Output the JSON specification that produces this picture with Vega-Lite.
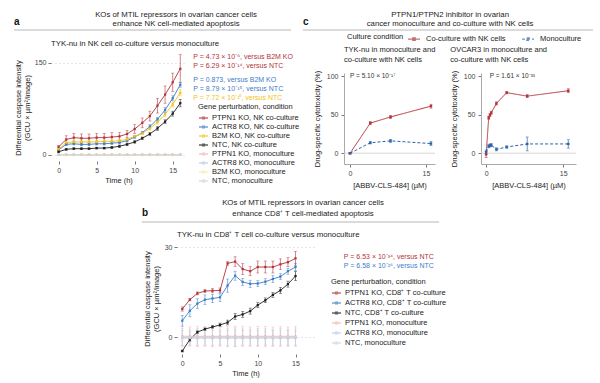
{
"$schema": "https://vega.github.io/schema/vega-lite/v6.json",
"padding": {"left": 13, "top": 11, "right": 5, "bottom": 2},
"background": "white",
"config": {
 "font": "Liberation Sans",
 "view": {"stroke": null},
 "axis": {"labelFontSize": 7, "titleFontSize": 7.5, "labelColor": "#444", "titleColor": "#222", "titleFontWeight": "normal", "tickColor": "#777", "tickSize": 3, "domainColor": "#999", "labelPadding": 2, "grid": false},
 "legend": {"labelFontSize": 7.5, "titleFontSize": 7.5, "titleFontWeight": "normal", "labelColor": "#222", "titleColor": "#222"},
 "title": {"fontSize": 7.8, "fontWeight": "normal", "color": "#222"}
},
"datasets": {
 "a": [
  {"s":"PTPN1 KO, NK co-culture","t":0,"v":13,"lo":11,"hi":15},{"s":"PTPN1 KO, NK co-culture","t":1,"v":25,"lo":19,"hi":31},{"s":"PTPN1 KO, NK co-culture","t":2,"v":28,"lo":21,"hi":35},{"s":"PTPN1 KO, NK co-culture","t":3,"v":27,"lo":20,"hi":34},{"s":"PTPN1 KO, NK co-culture","t":4,"v":27,"lo":20,"hi":34},{"s":"PTPN1 KO, NK co-culture","t":5,"v":28,"lo":21,"hi":35},{"s":"PTPN1 KO, NK co-culture","t":6,"v":28,"lo":21,"hi":35},{"s":"PTPN1 KO, NK co-culture","t":7,"v":29,"lo":22,"hi":36},{"s":"PTPN1 KO, NK co-culture","t":8,"v":30,"lo":24,"hi":36},{"s":"PTPN1 KO, NK co-culture","t":9,"v":34,"lo":28,"hi":40},{"s":"PTPN1 KO, NK co-culture","t":10,"v":42,"lo":35,"hi":49},{"s":"PTPN1 KO, NK co-culture","t":11,"v":52,"lo":44,"hi":60},{"s":"PTPN1 KO, NK co-culture","t":12,"v":63,"lo":55,"hi":71},{"s":"PTPN1 KO, NK co-culture","t":13,"v":80,"lo":68,"hi":92},{"s":"PTPN1 KO, NK co-culture","t":14,"v":98,"lo":84,"hi":112},{"s":"PTPN1 KO, NK co-culture","t":15,"v":118,"lo":103,"hi":133},{"s":"PTPN1 KO, NK co-culture","t":16,"v":140,"lo":118,"hi":163},
  {"s":"ACTR8 KO, NK co-culture","t":0,"v":8,"lo":6.5,"hi":9.5},{"s":"ACTR8 KO, NK co-culture","t":1,"v":17,"lo":15,"hi":19},{"s":"ACTR8 KO, NK co-culture","t":2,"v":18,"lo":16,"hi":20},{"s":"ACTR8 KO, NK co-culture","t":3,"v":17,"lo":15,"hi":19},{"s":"ACTR8 KO, NK co-culture","t":4,"v":17,"lo":15,"hi":19},{"s":"ACTR8 KO, NK co-culture","t":5,"v":18,"lo":16,"hi":20},{"s":"ACTR8 KO, NK co-culture","t":6,"v":18,"lo":16,"hi":20},{"s":"ACTR8 KO, NK co-culture","t":7,"v":19,"lo":17,"hi":21},{"s":"ACTR8 KO, NK co-culture","t":8,"v":20,"lo":18,"hi":22},{"s":"ACTR8 KO, NK co-culture","t":9,"v":23,"lo":21,"hi":25},{"s":"ACTR8 KO, NK co-culture","t":10,"v":29,"lo":27,"hi":31},{"s":"ACTR8 KO, NK co-culture","t":11,"v":36,"lo":34,"hi":38},{"s":"ACTR8 KO, NK co-culture","t":12,"v":46,"lo":43,"hi":49},{"s":"ACTR8 KO, NK co-culture","t":13,"v":58,"lo":55,"hi":61},{"s":"ACTR8 KO, NK co-culture","t":14,"v":73,"lo":69,"hi":77},{"s":"ACTR8 KO, NK co-culture","t":15,"v":92,"lo":88,"hi":96},{"s":"ACTR8 KO, NK co-culture","t":16,"v":114,"lo":110,"hi":118},
  {"s":"B2M KO, NK co-culture","t":0,"v":9,"lo":7.5,"hi":10.5},{"s":"B2M KO, NK co-culture","t":1,"v":20,"lo":18,"hi":22},{"s":"B2M KO, NK co-culture","t":2,"v":21,"lo":19,"hi":23},{"s":"B2M KO, NK co-culture","t":3,"v":21,"lo":19,"hi":23},{"s":"B2M KO, NK co-culture","t":4,"v":21,"lo":19,"hi":23},{"s":"B2M KO, NK co-culture","t":5,"v":21,"lo":19,"hi":23},{"s":"B2M KO, NK co-culture","t":6,"v":22,"lo":20,"hi":24},{"s":"B2M KO, NK co-culture","t":7,"v":22,"lo":20,"hi":24},{"s":"B2M KO, NK co-culture","t":8,"v":23,"lo":21,"hi":25},{"s":"B2M KO, NK co-culture","t":9,"v":25,"lo":23,"hi":27},{"s":"B2M KO, NK co-culture","t":10,"v":30,"lo":28,"hi":32},{"s":"B2M KO, NK co-culture","t":11,"v":35,"lo":33,"hi":37},{"s":"B2M KO, NK co-culture","t":12,"v":43,"lo":40,"hi":46},{"s":"B2M KO, NK co-culture","t":13,"v":53,"lo":50,"hi":56},{"s":"B2M KO, NK co-culture","t":14,"v":66,"lo":62,"hi":70},{"s":"B2M KO, NK co-culture","t":15,"v":82,"lo":78,"hi":86},{"s":"B2M KO, NK co-culture","t":16,"v":101,"lo":96,"hi":106},
  {"s":"NTC, NK co-culture","t":0,"v":5,"lo":4,"hi":6},{"s":"NTC, NK co-culture","t":1,"v":9,"lo":7.5,"hi":10.5},{"s":"NTC, NK co-culture","t":2,"v":10,"lo":8.5,"hi":11.5},{"s":"NTC, NK co-culture","t":3,"v":10,"lo":8.5,"hi":11.5},{"s":"NTC, NK co-culture","t":4,"v":10,"lo":8.5,"hi":11.5},{"s":"NTC, NK co-culture","t":5,"v":11,"lo":9.5,"hi":12.5},{"s":"NTC, NK co-culture","t":6,"v":11,"lo":9.5,"hi":12.5},{"s":"NTC, NK co-culture","t":7,"v":12,"lo":10.5,"hi":13.5},{"s":"NTC, NK co-culture","t":8,"v":14,"lo":12,"hi":16},{"s":"NTC, NK co-culture","t":9,"v":17,"lo":15,"hi":19},{"s":"NTC, NK co-culture","t":10,"v":21,"lo":19,"hi":23},{"s":"NTC, NK co-culture","t":11,"v":27,"lo":25,"hi":29},{"s":"NTC, NK co-culture","t":12,"v":34,"lo":31.5,"hi":36.5},{"s":"NTC, NK co-culture","t":13,"v":43,"lo":40,"hi":46},{"s":"NTC, NK co-culture","t":14,"v":54,"lo":51,"hi":57},{"s":"NTC, NK co-culture","t":15,"v":67,"lo":63,"hi":71},{"s":"NTC, NK co-culture","t":16,"v":84,"lo":78,"hi":90},
  {"s":"PTPN1 KO, monoculture","t":0,"v":0.3,"lo":-0.7,"hi":1.3},{"s":"PTPN1 KO, monoculture","t":1,"v":0.3,"lo":-0.7,"hi":1.3},{"s":"PTPN1 KO, monoculture","t":2,"v":0.3,"lo":-0.7,"hi":1.3},{"s":"PTPN1 KO, monoculture","t":3,"v":0.3,"lo":-0.7,"hi":1.3},{"s":"PTPN1 KO, monoculture","t":4,"v":0.3,"lo":-0.7,"hi":1.3},{"s":"PTPN1 KO, monoculture","t":5,"v":0.3,"lo":-0.7,"hi":1.3},{"s":"PTPN1 KO, monoculture","t":6,"v":0.3,"lo":-0.7,"hi":1.3},{"s":"PTPN1 KO, monoculture","t":7,"v":0.3,"lo":-0.7,"hi":1.3},{"s":"PTPN1 KO, monoculture","t":8,"v":0.3,"lo":-0.7,"hi":1.3},{"s":"PTPN1 KO, monoculture","t":9,"v":0.3,"lo":-0.7,"hi":1.3},{"s":"PTPN1 KO, monoculture","t":10,"v":0.3,"lo":-0.7,"hi":1.3},{"s":"PTPN1 KO, monoculture","t":11,"v":0.3,"lo":-0.7,"hi":1.3},{"s":"PTPN1 KO, monoculture","t":12,"v":0.3,"lo":-0.7,"hi":1.3},{"s":"PTPN1 KO, monoculture","t":13,"v":0.3,"lo":-0.7,"hi":1.3},{"s":"PTPN1 KO, monoculture","t":14,"v":0.3,"lo":-0.7,"hi":1.3},{"s":"PTPN1 KO, monoculture","t":15,"v":0.3,"lo":-0.7,"hi":1.3},{"s":"PTPN1 KO, monoculture","t":16,"v":0.3,"lo":-0.7,"hi":1.3},
  {"s":"ACTR8 KO, monoculture","t":0,"v":0.1,"lo":-0.9,"hi":1.1},{"s":"ACTR8 KO, monoculture","t":1,"v":0.1,"lo":-0.9,"hi":1.1},{"s":"ACTR8 KO, monoculture","t":2,"v":0.1,"lo":-0.9,"hi":1.1},{"s":"ACTR8 KO, monoculture","t":3,"v":0.1,"lo":-0.9,"hi":1.1},{"s":"ACTR8 KO, monoculture","t":4,"v":0.1,"lo":-0.9,"hi":1.1},{"s":"ACTR8 KO, monoculture","t":5,"v":0.1,"lo":-0.9,"hi":1.1},{"s":"ACTR8 KO, monoculture","t":6,"v":0.1,"lo":-0.9,"hi":1.1},{"s":"ACTR8 KO, monoculture","t":7,"v":0.1,"lo":-0.9,"hi":1.1},{"s":"ACTR8 KO, monoculture","t":8,"v":0.1,"lo":-0.9,"hi":1.1},{"s":"ACTR8 KO, monoculture","t":9,"v":0.1,"lo":-0.9,"hi":1.1},{"s":"ACTR8 KO, monoculture","t":10,"v":0.1,"lo":-0.9,"hi":1.1},{"s":"ACTR8 KO, monoculture","t":11,"v":0.1,"lo":-0.9,"hi":1.1},{"s":"ACTR8 KO, monoculture","t":12,"v":0.1,"lo":-0.9,"hi":1.1},{"s":"ACTR8 KO, monoculture","t":13,"v":0.1,"lo":-0.9,"hi":1.1},{"s":"ACTR8 KO, monoculture","t":14,"v":0.1,"lo":-0.9,"hi":1.1},{"s":"ACTR8 KO, monoculture","t":15,"v":0.1,"lo":-0.9,"hi":1.1},{"s":"ACTR8 KO, monoculture","t":16,"v":0.1,"lo":-0.9,"hi":1.1},
  {"s":"B2M KO, monoculture","t":0,"v":0,"lo":-1,"hi":1},{"s":"B2M KO, monoculture","t":1,"v":0,"lo":-1,"hi":1},{"s":"B2M KO, monoculture","t":2,"v":0,"lo":-1,"hi":1},{"s":"B2M KO, monoculture","t":3,"v":0,"lo":-1,"hi":1},{"s":"B2M KO, monoculture","t":4,"v":0,"lo":-1,"hi":1},{"s":"B2M KO, monoculture","t":5,"v":0,"lo":-1,"hi":1},{"s":"B2M KO, monoculture","t":6,"v":0,"lo":-1,"hi":1},{"s":"B2M KO, monoculture","t":7,"v":0,"lo":-1,"hi":1},{"s":"B2M KO, monoculture","t":8,"v":0,"lo":-1,"hi":1},{"s":"B2M KO, monoculture","t":9,"v":0,"lo":-1,"hi":1},{"s":"B2M KO, monoculture","t":10,"v":0,"lo":-1,"hi":1},{"s":"B2M KO, monoculture","t":11,"v":0,"lo":-1,"hi":1},{"s":"B2M KO, monoculture","t":12,"v":0,"lo":-1,"hi":1},{"s":"B2M KO, monoculture","t":13,"v":0,"lo":-1,"hi":1},{"s":"B2M KO, monoculture","t":14,"v":0,"lo":-1,"hi":1},{"s":"B2M KO, monoculture","t":15,"v":0,"lo":-1,"hi":1},{"s":"B2M KO, monoculture","t":16,"v":0,"lo":-1,"hi":1},
  {"s":"NTC, monoculture","t":0,"v":-0.1,"lo":-1.1,"hi":0.9},{"s":"NTC, monoculture","t":1,"v":-0.1,"lo":-1.1,"hi":0.9},{"s":"NTC, monoculture","t":2,"v":-0.1,"lo":-1.1,"hi":0.9},{"s":"NTC, monoculture","t":3,"v":-0.1,"lo":-1.1,"hi":0.9},{"s":"NTC, monoculture","t":4,"v":-0.1,"lo":-1.1,"hi":0.9},{"s":"NTC, monoculture","t":5,"v":-0.1,"lo":-1.1,"hi":0.9},{"s":"NTC, monoculture","t":6,"v":-0.1,"lo":-1.1,"hi":0.9},{"s":"NTC, monoculture","t":7,"v":-0.1,"lo":-1.1,"hi":0.9},{"s":"NTC, monoculture","t":8,"v":-0.1,"lo":-1.1,"hi":0.9},{"s":"NTC, monoculture","t":9,"v":-0.1,"lo":-1.1,"hi":0.9},{"s":"NTC, monoculture","t":10,"v":-0.1,"lo":-1.1,"hi":0.9},{"s":"NTC, monoculture","t":11,"v":-0.1,"lo":-1.1,"hi":0.9},{"s":"NTC, monoculture","t":12,"v":-0.1,"lo":-1.1,"hi":0.9},{"s":"NTC, monoculture","t":13,"v":-0.1,"lo":-1.1,"hi":0.9},{"s":"NTC, monoculture","t":14,"v":-0.1,"lo":-1.1,"hi":0.9},{"s":"NTC, monoculture","t":15,"v":-0.1,"lo":-1.1,"hi":0.9},{"s":"NTC, monoculture","t":16,"v":-0.1,"lo":-1.1,"hi":0.9}
 ],
 "aP": [
  {"label":"P = 4.73 × 10⁻⁶, versus B2M KO","s":"PTPN1 KO, NK co-culture","px":17.7,"py":159},
  {"label":"P = 6.29 × 10⁻¹⁴, versus NTC","s":"PTPN1 KO, NK co-culture","px":17.7,"py":144},
  {"label":"P = 0.873, versus B2M KO","s":"ACTR8 KO, NK co-culture","px":17.7,"py":121.6},
  {"label":"P = 8.79 × 10⁻¹⁵, versus NTC","s":"ACTR8 KO, NK co-culture","px":17.7,"py":107},
  {"label":"P = 7.72 × 10⁻¹⁰, versus NTC","s":"B2M KO, NK co-culture","px":17.7,"py":92.6}
 ],
 "b": [
  {"s":"PTPN1 KO, CD8⁺ T co-culture","t":0,"v":9.4,"lo":8.7,"hi":10.1},{"s":"PTPN1 KO, CD8⁺ T co-culture","t":1,"v":12.5,"lo":12.1,"hi":12.9},{"s":"PTPN1 KO, CD8⁺ T co-culture","t":2,"v":14.6,"lo":14.1,"hi":15.1},{"s":"PTPN1 KO, CD8⁺ T co-culture","t":3,"v":15.4,"lo":14.9,"hi":15.9},{"s":"PTPN1 KO, CD8⁺ T co-culture","t":4,"v":15.5,"lo":14.8,"hi":16.2},{"s":"PTPN1 KO, CD8⁺ T co-culture","t":5,"v":15.6,"lo":14.8,"hi":16.4},{"s":"PTPN1 KO, CD8⁺ T co-culture","t":6,"v":24.6,"lo":24.0,"hi":25.2},{"s":"PTPN1 KO, CD8⁺ T co-culture","t":7,"v":25.2,"lo":23.6,"hi":26.8},{"s":"PTPN1 KO, CD8⁺ T co-culture","t":8,"v":22.7,"lo":20.9,"hi":24.5},{"s":"PTPN1 KO, CD8⁺ T co-culture","t":9,"v":22.0,"lo":20.5,"hi":23.5},{"s":"PTPN1 KO, CD8⁺ T co-culture","t":10,"v":23.4,"lo":21.4,"hi":25.4},{"s":"PTPN1 KO, CD8⁺ T co-culture","t":11,"v":23.4,"lo":21.4,"hi":25.4},{"s":"PTPN1 KO, CD8⁺ T co-culture","t":12,"v":23.4,"lo":21.4,"hi":25.4},{"s":"PTPN1 KO, CD8⁺ T co-culture","t":13,"v":24.3,"lo":22.5,"hi":26.1},{"s":"PTPN1 KO, CD8⁺ T co-culture","t":14,"v":25.0,"lo":23.5,"hi":26.5},{"s":"PTPN1 KO, CD8⁺ T co-culture","t":15,"v":26.3,"lo":24.0,"hi":28.6},
  {"s":"ACTR8 KO, CD8⁺ T co-culture","t":0,"v":5.5,"lo":3.7,"hi":7.3},{"s":"ACTR8 KO, CD8⁺ T co-culture","t":1,"v":8.8,"lo":6.8,"hi":10.8},{"s":"ACTR8 KO, CD8⁺ T co-culture","t":2,"v":11.2,"lo":9.6,"hi":12.8},{"s":"ACTR8 KO, CD8⁺ T co-culture","t":3,"v":12.5,"lo":10.9,"hi":14.1},{"s":"ACTR8 KO, CD8⁺ T co-culture","t":4,"v":12.9,"lo":11.5,"hi":14.3},{"s":"ACTR8 KO, CD8⁺ T co-culture","t":5,"v":13.3,"lo":11.9,"hi":14.7},{"s":"ACTR8 KO, CD8⁺ T co-culture","t":6,"v":17.2,"lo":15.0,"hi":19.4},{"s":"ACTR8 KO, CD8⁺ T co-culture","t":7,"v":20.5,"lo":19.0,"hi":22.0},{"s":"ACTR8 KO, CD8⁺ T co-culture","t":8,"v":18.4,"lo":17.2,"hi":19.6},{"s":"ACTR8 KO, CD8⁺ T co-culture","t":9,"v":17.8,"lo":16.6,"hi":19.0},{"s":"ACTR8 KO, CD8⁺ T co-culture","t":10,"v":17.9,"lo":16.9,"hi":18.9},{"s":"ACTR8 KO, CD8⁺ T co-culture","t":11,"v":18.5,"lo":17.5,"hi":19.5},{"s":"ACTR8 KO, CD8⁺ T co-culture","t":12,"v":19.4,"lo":18.2,"hi":20.6},{"s":"ACTR8 KO, CD8⁺ T co-culture","t":13,"v":20.2,"lo":19.2,"hi":21.2},{"s":"ACTR8 KO, CD8⁺ T co-culture","t":14,"v":22.0,"lo":21.0,"hi":23.0},{"s":"ACTR8 KO, CD8⁺ T co-culture","t":15,"v":23.4,"lo":22.2,"hi":24.6},
  {"s":"NTC, CD8⁺ T co-culture","t":0,"v":-4.6,"lo":-4.9,"hi":-4.3},{"s":"NTC, CD8⁺ T co-culture","t":1,"v":-0.8,"lo":-1.3,"hi":-0.3},{"s":"NTC, CD8⁺ T co-culture","t":2,"v":1.7,"lo":1.2,"hi":2.2},{"s":"NTC, CD8⁺ T co-culture","t":3,"v":2.7,"lo":2.3,"hi":3.1},{"s":"NTC, CD8⁺ T co-culture","t":4,"v":3.4,"lo":2.9,"hi":3.9},{"s":"NTC, CD8⁺ T co-culture","t":5,"v":4.1,"lo":3.5,"hi":4.7},{"s":"NTC, CD8⁺ T co-culture","t":6,"v":4.9,"lo":4.1,"hi":5.7},{"s":"NTC, CD8⁺ T co-culture","t":7,"v":6.9,"lo":5.9,"hi":7.9},{"s":"NTC, CD8⁺ T co-culture","t":8,"v":7.6,"lo":6.6,"hi":8.6},{"s":"NTC, CD8⁺ T co-culture","t":9,"v":8.7,"lo":7.7,"hi":9.7},{"s":"NTC, CD8⁺ T co-culture","t":10,"v":10.7,"lo":9.9,"hi":11.5},{"s":"NTC, CD8⁺ T co-culture","t":11,"v":12.3,"lo":11.5,"hi":13.1},{"s":"NTC, CD8⁺ T co-culture","t":12,"v":14.1,"lo":13.3,"hi":14.9},{"s":"NTC, CD8⁺ T co-culture","t":13,"v":15.6,"lo":14.6,"hi":16.6},{"s":"NTC, CD8⁺ T co-culture","t":14,"v":17.7,"lo":16.7,"hi":18.7},{"s":"NTC, CD8⁺ T co-culture","t":15,"v":20.4,"lo":18.9,"hi":21.9},
  {"s":"PTPN1 KO, monoculture","t":0,"v":0.3,"lo":-3.2,"hi":3.6},{"s":"PTPN1 KO, monoculture","t":1,"v":0.3,"lo":-3.0,"hi":3.4},{"s":"PTPN1 KO, monoculture","t":2,"v":0.3,"lo":-3.1,"hi":3.5},{"s":"PTPN1 KO, monoculture","t":3,"v":0.3,"lo":-3.0,"hi":3.6},{"s":"PTPN1 KO, monoculture","t":4,"v":0.3,"lo":-3.2,"hi":3.5},{"s":"PTPN1 KO, monoculture","t":5,"v":0.3,"lo":-3.0,"hi":3.4},{"s":"PTPN1 KO, monoculture","t":6,"v":0.3,"lo":-3.1,"hi":3.6},{"s":"PTPN1 KO, monoculture","t":7,"v":0.3,"lo":-3.2,"hi":3.7},{"s":"PTPN1 KO, monoculture","t":8,"v":0.3,"lo":-3.0,"hi":3.5},{"s":"PTPN1 KO, monoculture","t":9,"v":0.3,"lo":-3.1,"hi":3.4},{"s":"PTPN1 KO, monoculture","t":10,"v":0.3,"lo":-3.0,"hi":3.5},{"s":"PTPN1 KO, monoculture","t":11,"v":0.3,"lo":-3.2,"hi":3.6},{"s":"PTPN1 KO, monoculture","t":12,"v":0.3,"lo":-3.1,"hi":3.4},{"s":"PTPN1 KO, monoculture","t":13,"v":0.3,"lo":-3.0,"hi":3.5},{"s":"PTPN1 KO, monoculture","t":14,"v":0.3,"lo":-3.1,"hi":3.4},{"s":"PTPN1 KO, monoculture","t":15,"v":0.3,"lo":-3.0,"hi":3.5},
  {"s":"ACTR8 KO, monoculture","t":0,"v":-0.3,"lo":-2.8,"hi":2.2},{"s":"ACTR8 KO, monoculture","t":1,"v":-0.3,"lo":-2.6,"hi":2.0},{"s":"ACTR8 KO, monoculture","t":2,"v":-0.3,"lo":-2.9,"hi":2.2},{"s":"ACTR8 KO, monoculture","t":3,"v":-0.3,"lo":-2.7,"hi":2.1},{"s":"ACTR8 KO, monoculture","t":4,"v":-0.3,"lo":-2.8,"hi":2.2},{"s":"ACTR8 KO, monoculture","t":5,"v":-0.3,"lo":-2.6,"hi":2.0},{"s":"ACTR8 KO, monoculture","t":6,"v":-0.3,"lo":-2.9,"hi":2.3},{"s":"ACTR8 KO, monoculture","t":7,"v":-0.3,"lo":-3.0,"hi":2.4},{"s":"ACTR8 KO, monoculture","t":8,"v":-0.3,"lo":-2.8,"hi":2.2},{"s":"ACTR8 KO, monoculture","t":9,"v":-0.3,"lo":-2.7,"hi":2.1},{"s":"ACTR8 KO, monoculture","t":10,"v":-0.3,"lo":-2.8,"hi":2.2},{"s":"ACTR8 KO, monoculture","t":11,"v":-0.3,"lo":-2.6,"hi":2.0},{"s":"ACTR8 KO, monoculture","t":12,"v":-0.3,"lo":-2.8,"hi":2.2},{"s":"ACTR8 KO, monoculture","t":13,"v":-0.3,"lo":-2.7,"hi":2.1},{"s":"ACTR8 KO, monoculture","t":14,"v":-0.3,"lo":-2.8,"hi":2.2},{"s":"ACTR8 KO, monoculture","t":15,"v":-0.3,"lo":-2.6,"hi":2.0},
  {"s":"NTC, monoculture","t":0,"v":0,"lo":-2.9,"hi":2.9},{"s":"NTC, monoculture","t":1,"v":0,"lo":-2.7,"hi":2.7},{"s":"NTC, monoculture","t":2,"v":0,"lo":-2.8,"hi":2.8},{"s":"NTC, monoculture","t":3,"v":0,"lo":-2.6,"hi":2.6},{"s":"NTC, monoculture","t":4,"v":0,"lo":-2.9,"hi":2.9},{"s":"NTC, monoculture","t":5,"v":0,"lo":-2.7,"hi":2.7},{"s":"NTC, monoculture","t":6,"v":0,"lo":-3.0,"hi":3.0},{"s":"NTC, monoculture","t":7,"v":0,"lo":-3.1,"hi":3.1},{"s":"NTC, monoculture","t":8,"v":0,"lo":-2.8,"hi":2.8},{"s":"NTC, monoculture","t":9,"v":0,"lo":-2.7,"hi":2.7},{"s":"NTC, monoculture","t":10,"v":0,"lo":-2.9,"hi":2.9},{"s":"NTC, monoculture","t":11,"v":0,"lo":-2.8,"hi":2.8},{"s":"NTC, monoculture","t":12,"v":0,"lo":-2.7,"hi":2.7},{"s":"NTC, monoculture","t":13,"v":0,"lo":-2.8,"hi":2.8},{"s":"NTC, monoculture","t":14,"v":0,"lo":-2.6,"hi":2.6},{"s":"NTC, monoculture","t":15,"v":0,"lo":-2.7,"hi":2.7}
 ],
 "bP": [
  {"label":"P = 6.53 × 10⁻³⁴, versus NTC","s":"PTPN1 KO, CD8⁺ T co-culture","px":21.4,"py":26.8},
  {"label":"P = 6.58 × 10⁻²⁶, versus NTC","s":"ACTR8 KO, CD8⁺ T co-culture","px":21.4,"py":23.8}
 ],
 "c1": [
  {"cond":"Co-culture with NK cells","d":0,"v":0,"lo":-0.8,"hi":0.8},{"cond":"Co-culture with NK cells","d":4,"v":39,"lo":37,"hi":41},{"cond":"Co-culture with NK cells","d":8,"v":47,"lo":45,"hi":49},{"cond":"Co-culture with NK cells","d":16,"v":61,"lo":58.5,"hi":63.5},
  {"cond":"Monoculture","d":0,"v":0,"lo":-0.8,"hi":0.8},{"cond":"Monoculture","d":4,"v":13.5,"lo":12,"hi":15},{"cond":"Monoculture","d":8,"v":16,"lo":14,"hi":18},{"cond":"Monoculture","d":16,"v":12.5,"lo":10,"hi":15}
 ],
 "c2": [
  {"cond":"Co-culture with NK cells","d":0,"v":-1.5,"lo":-5.5,"hi":2.5},{"cond":"Co-culture with NK cells","d":0.5,"v":46,"lo":44,"hi":48},{"cond":"Co-culture with NK cells","d":0.75,"v":49.5,"lo":47.5,"hi":51.5},{"cond":"Co-culture with NK cells","d":1,"v":52.5,"lo":50.5,"hi":54.5},{"cond":"Co-culture with NK cells","d":2,"v":64.5,"lo":62.5,"hi":66.5},{"cond":"Co-culture with NK cells","d":4,"v":78.5,"lo":77,"hi":80},{"cond":"Co-culture with NK cells","d":8,"v":74,"lo":72,"hi":76},{"cond":"Co-culture with NK cells","d":16,"v":81,"lo":78.5,"hi":83.5},
  {"cond":"Monoculture","d":0,"v":1.5,"lo":-1,"hi":4},{"cond":"Monoculture","d":0.5,"v":9,"lo":7,"hi":11},{"cond":"Monoculture","d":0.75,"v":10,"lo":8,"hi":12},{"cond":"Monoculture","d":1,"v":10.5,"lo":8.5,"hi":12.5},{"cond":"Monoculture","d":2,"v":5,"lo":3,"hi":7},{"cond":"Monoculture","d":4,"v":8,"lo":6.5,"hi":9.5},{"cond":"Monoculture","d":8,"v":12,"lo":3,"hi":21},{"cond":"Monoculture","d":16,"v":12,"lo":6.5,"hi":17.5}
 ]
},
"resolve": {"scale": {"color": "independent", "strokeDash": "independent"}, "legend": {"color": "independent", "strokeDash": "independent"}},
"spacing": 10,
"vconcat": [
 {
  "resolve": {"scale": {"color": "independent", "strokeDash": "independent"}, "legend": {"color": "independent", "strokeDash": "independent"}},
  "spacing": 2,
  "hconcat": [
   {
    "spacing": 9,
    "resolve": {"scale": {"color": "independent", "strokeDash": "independent"}, "legend": {"color": "independent", "strokeDash": "independent"}},
    "vconcat": [
     {
      "width": 240, "height": 19,
      "data": {"values": [{"label": "a", "head": "KOs of MTIL repressors in ovarian cancer cells\nenhance NK cell-mediated apoptosis"}]},
      "layer": [
       {"mark": {"type": "rule", "color": "#999", "strokeWidth": 0.7}, "encoding": {"x": {"datum": -0.154, "type": "quantitative", "scale": {"domain": [0, 1]}, "axis": null}, "x2": {"datum": 1}, "y": {"datum": 0, "type": "quantitative", "scale": {"domain": [0, 19]}, "axis": null}}},
       {"mark": {"type": "text", "fontSize": 10, "fontWeight": "bold", "align": "left", "baseline": "middle", "color": "#111"}, "encoding": {"text": {"field": "label"}, "x": {"datum": -0.154, "type": "quantitative", "scale": {"domain": [0, 1]}, "axis": null}, "y": {"datum": 8, "type": "quantitative", "scale": {"domain": [0, 19]}, "axis": null}}},
       {"mark": {"type": "text", "fontSize": 7.8, "align": "center", "baseline": "middle", "lineBreak": "\n", "lineHeight": 9, "color": "#222"}, "encoding": {"text": {"field": "head"}, "x": {"datum": 0.521, "type": "quantitative", "scale": {"domain": [0, 1]}, "axis": null}, "y": {"datum": 15, "type": "quantitative", "scale": {"domain": [0, 19]}, "axis": null}}}
      ]
     },
     {
      "width": 135, "height": 107,
      "title": {"text": "TYK-nu in NK cell co-culture versus monoculture", "anchor": "start", "frame": "group", "offset": 5},
      "layer": [
       {"data": {"name": "a"}, "mark": {"type": "rule", "strokeWidth": 0.6},
        "encoding": {"x": {"field": "t", "type": "quantitative", "scale": {"domain": [-1, 16.75], "nice": false, "zero": false}},
                     "y": {"field": "lo", "type": "quantitative", "scale": {"domain": [-10, 164], "nice": false, "zero": false}}, "y2": {"field": "hi"},
                     "color": {"field": "s", "type": "nominal", "scale": {"domain": ["PTPN1 KO, NK co-culture","ACTR8 KO, NK co-culture","B2M KO, NK co-culture","NTC, NK co-culture","PTPN1 KO, monoculture","ACTR8 KO, monoculture","B2M KO, monoculture","NTC, monoculture"], "range": ["#b4323a","#3d7cc9","#f2c216","#1e1e1e","#f3b4b6","#b6c9ec","#fbe8a4","#d2d2d2"]}}}},
       {"data": {"name": "a"}, "mark": {"type": "tick", "orient": "horizontal", "size": 3, "thickness": 0.6},
        "encoding": {"x": {"field": "t", "type": "quantitative", "scale": {"domain": [-1, 16.75], "nice": false, "zero": false}},
                     "y": {"field": "lo", "type": "quantitative", "scale": {"domain": [-10, 164], "nice": false, "zero": false}},
                     "color": {"field": "s", "type": "nominal"}}},
       {"data": {"name": "a"}, "mark": {"type": "tick", "orient": "horizontal", "size": 3, "thickness": 0.6},
        "encoding": {"x": {"field": "t", "type": "quantitative", "scale": {"domain": [-1, 16.75], "nice": false, "zero": false}},
                     "y": {"field": "hi", "type": "quantitative", "scale": {"domain": [-10, 164], "nice": false, "zero": false}},
                     "color": {"field": "s", "type": "nominal"}}},
       {"data": {"name": "a"}, "mark": {"type": "line", "strokeWidth": 0.9},
        "encoding": {"x": {"field": "t", "type": "quantitative", "scale": {"domain": [-1, 16.75], "nice": false, "zero": false}, "axis": {"values": [0, 5, 10, 15], "title": "Time (h)", "domain": false, "titlePadding": 3}},
                     "y": {"field": "v", "type": "quantitative", "scale": {"domain": [-10, 164], "nice": false, "zero": false}, "axis": {"values": [0, 50, 100, 150], "title": ["Differential caspase intensity", "(GCU × µm²/image)"], "domain": false, "grid": true, "gridDash": [1, 3], "gridColor": "#bbb", "gridWidth": 0.7, "titlePadding": 3, "titleLineHeight": 9}},
                     "color": {"field": "s", "type": "nominal", "legend": {"title": "Gene perturbation, condition", "orient": "none", "legendX": 147, "legendY": 49, "symbolType": "M-1,0H1M-0.2,-0.2H0.2V0.2H-0.2Z", "symbolSize": 81, "symbolStrokeWidth": 1.3, "rowPadding": 0, "titlePadding": 2, "labelOffset": 3}}}},
       {"data": {"name": "a"}, "mark": {"type": "square", "size": 5, "opacity": 1},
        "encoding": {"x": {"field": "t", "type": "quantitative", "scale": {"domain": [-1, 16.75], "nice": false, "zero": false}},
                     "y": {"field": "v", "type": "quantitative", "scale": {"domain": [-10, 164], "nice": false, "zero": false}},
                     "color": {"field": "s", "type": "nominal"}}},
       {"data": {"name": "aP"}, "mark": {"type": "text", "align": "left", "baseline": "middle", "fontSize": 7},
        "encoding": {"x": {"field": "px", "type": "quantitative", "scale": {"domain": [-1, 16.75], "nice": false, "zero": false}},
                     "y": {"field": "py", "type": "quantitative", "scale": {"domain": [-10, 164], "nice": false, "zero": false}},
                     "text": {"field": "label"},
                     "color": {"field": "s", "type": "nominal"}}}
      ]
     }
    ]
   },
   {
    "spacing": 1,
    "resolve": {"scale": {"color": "independent", "strokeDash": "independent"}, "legend": {"color": "independent", "strokeDash": "independent"}},
    "vconcat": [
     {
      "width": 249, "height": 19,
      "data": {"values": [{"label": "c", "head": "PTPN1/PTPN2 inhibitor in ovarian\ncancer monoculture and co-culture with NK cells"}]},
      "layer": [
       {"mark": {"type": "rule", "color": "#999", "strokeWidth": 0.7}, "encoding": {"x": {"datum": -0.165, "type": "quantitative", "scale": {"domain": [0, 1]}, "axis": null}, "x2": {"datum": 1}, "y": {"datum": 0, "type": "quantitative", "scale": {"domain": [0, 19]}, "axis": null}}},
       {"mark": {"type": "text", "fontSize": 10, "fontWeight": "bold", "align": "left", "baseline": "middle", "color": "#111"}, "encoding": {"text": {"field": "label"}, "x": {"datum": -0.165, "type": "quantitative", "scale": {"domain": [0, 1]}, "axis": null}, "y": {"datum": 8, "type": "quantitative", "scale": {"domain": [0, 19]}, "axis": null}}},
       {"mark": {"type": "text", "fontSize": 7.8, "align": "center", "baseline": "middle", "lineBreak": "\n", "lineHeight": 9, "color": "#222"}, "encoding": {"text": {"field": "head"}, "x": {"datum": 0.426, "type": "quantitative", "scale": {"domain": [0, 1]}, "axis": null}, "y": {"datum": 15, "type": "quantitative", "scale": {"domain": [0, 19]}, "axis": null}}}
      ]
     },
     {
      "spacing": 14,
      "hconcat": [
       {
        "width": 91, "height": 91,
        "title": {"text": ["TYK-nu in monoculture and", "co-culture with NK cells"], "anchor": "start", "frame": "group", "offset": 7, "lineHeight": 10, "fontSize": 7.5},
        "layer": [
         {"data": {"values": [{}]}, "mark": {"type": "rule", "color": "#ccc", "strokeWidth": 0.8}, "encoding": {"y": {"datum": 0, "type": "quantitative", "scale": {"domain": [-14, 104], "nice": false, "zero": false}}}},
         {"data": {"name": "c1"}, "mark": {"type": "rule", "strokeWidth": 0.7},
          "encoding": {"x": {"field": "d", "type": "quantitative", "scale": {"domain": [-1.2, 16.8], "nice": false, "zero": false}},
                       "y": {"field": "lo", "type": "quantitative", "scale": {"domain": [-14, 104], "nice": false, "zero": false}}, "y2": {"field": "hi"},
                       "color": {"field": "cond", "type": "nominal", "scale": {"domain": ["Co-culture with NK cells", "Monoculture"], "range": ["#b4323a", "#2e63ad"]}}}},
         {"data": {"name": "c1"}, "mark": {"type": "tick", "orient": "horizontal", "size": 3, "thickness": 0.7},
          "encoding": {"x": {"field": "d", "type": "quantitative", "scale": {"domain": [-1.2, 16.8], "nice": false, "zero": false}},
                       "y": {"field": "lo", "type": "quantitative", "scale": {"domain": [-14, 104], "nice": false, "zero": false}},
                       "color": {"field": "cond", "type": "nominal"}}},
         {"data": {"name": "c1"}, "mark": {"type": "tick", "orient": "horizontal", "size": 3, "thickness": 0.7},
          "encoding": {"x": {"field": "d", "type": "quantitative", "scale": {"domain": [-1.2, 16.8], "nice": false, "zero": false}},
                       "y": {"field": "hi", "type": "quantitative", "scale": {"domain": [-14, 104], "nice": false, "zero": false}},
                       "color": {"field": "cond", "type": "nominal"}}},
         {"data": {"name": "c1"}, "mark": {"type": "line", "strokeWidth": 1},
          "encoding": {"x": {"field": "d", "type": "quantitative", "scale": {"domain": [-1.2, 16.8], "nice": false, "zero": false}, "axis": {"values": [0, 5, 10, 15], "title": "[ABBV-CLS-484] (µM)", "titlePadding": 5, "domainColor": "#aaa"}},
                       "y": {"field": "v", "type": "quantitative", "scale": {"domain": [-14, 104], "nice": false, "zero": false}, "axis": {"values": [0, 25, 50, 75, 100], "title": "Drug-specific cytotoxicity (%)", "titlePadding": 5, "labelPadding": 3, "domainColor": "#aaa"}},
                       "color": {"field": "cond", "type": "nominal", "legend": {"title": "Culture condition", "orient": "none", "legendX": 3, "legendY": -41, "direction": "horizontal", "titleOrient": "left", "symbolType": "M-1,0H1M-0.2,-0.2H0.2V0.2H-0.2Z", "symbolSize": 144, "symbolStrokeWidth": 1.3, "columnPadding": 13, "labelOffset": 5, "titlePadding": 3}},
                       "strokeDash": {"field": "cond", "type": "nominal", "scale": {"domain": ["Co-culture with NK cells", "Monoculture"], "range": [[1, 0], [3, 2]]}, "legend": {"title": "Culture condition", "orient": "none", "legendX": 3, "legendY": -41, "direction": "horizontal", "titleOrient": "left", "symbolType": "M-1,0H1M-0.2,-0.2H0.2V0.2H-0.2Z", "symbolSize": 144, "symbolStrokeWidth": 1.3, "columnPadding": 13, "labelOffset": 5, "titlePadding": 3}}}},
         {"data": {"name": "c1"}, "mark": {"type": "square", "size": 6, "opacity": 1},
          "encoding": {"x": {"field": "d", "type": "quantitative", "scale": {"domain": [-1.2, 16.8], "nice": false, "zero": false}},
                       "y": {"field": "v", "type": "quantitative", "scale": {"domain": [-14, 104], "nice": false, "zero": false}},
                       "color": {"field": "cond", "type": "nominal"}}},
         {"data": {"values": [{"label": "P = 5.10 × 10⁻¹⁷", "px": 0, "py": 100}]}, "mark": {"type": "text", "align": "left", "baseline": "middle", "fontSize": 6.5, "color": "#333"},
          "encoding": {"x": {"field": "px", "type": "quantitative", "scale": {"domain": [-1.2, 16.8], "nice": false, "zero": false}},
                       "y": {"field": "py", "type": "quantitative", "scale": {"domain": [-14, 104], "nice": false, "zero": false}},
                       "text": {"field": "label"}}}
        ]
       },
       {
        "width": 95, "height": 91,
        "title": {"text": ["OVCAR3 in monoculture and", "co-culture with NK cells"], "anchor": "start", "frame": "bounds", "offset": 7, "lineHeight": 10, "fontSize": 7.5},
        "layer": [
         {"data": {"values": [{}]}, "mark": {"type": "rule", "color": "#ccc", "strokeWidth": 0.8}, "encoding": {"y": {"datum": 0, "type": "quantitative", "scale": {"domain": [-14, 104], "nice": false, "zero": false}}}},
         {"data": {"name": "c2"}, "mark": {"type": "rule", "strokeWidth": 0.7},
          "encoding": {"x": {"field": "d", "type": "quantitative", "scale": {"domain": [-1, 17.5], "nice": false, "zero": false}},
                       "y": {"field": "lo", "type": "quantitative", "scale": {"domain": [-14, 104], "nice": false, "zero": false}}, "y2": {"field": "hi"},
                       "color": {"field": "cond", "type": "nominal"}}},
         {"data": {"name": "c2"}, "mark": {"type": "tick", "orient": "horizontal", "size": 3, "thickness": 0.7},
          "encoding": {"x": {"field": "d", "type": "quantitative", "scale": {"domain": [-1, 17.5], "nice": false, "zero": false}},
                       "y": {"field": "lo", "type": "quantitative", "scale": {"domain": [-14, 104], "nice": false, "zero": false}},
                       "color": {"field": "cond", "type": "nominal"}}},
         {"data": {"name": "c2"}, "mark": {"type": "tick", "orient": "horizontal", "size": 3, "thickness": 0.7},
          "encoding": {"x": {"field": "d", "type": "quantitative", "scale": {"domain": [-1, 17.5], "nice": false, "zero": false}},
                       "y": {"field": "hi", "type": "quantitative", "scale": {"domain": [-14, 104], "nice": false, "zero": false}},
                       "color": {"field": "cond", "type": "nominal"}}},
         {"data": {"name": "c2"}, "mark": {"type": "line", "strokeWidth": 1},
          "encoding": {"x": {"field": "d", "type": "quantitative", "scale": {"domain": [-1, 17.5], "nice": false, "zero": false}, "axis": {"values": [0, 5, 10, 15], "title": "[ABBV-CLS-484] (µM)", "titlePadding": 5, "domainColor": "#aaa"}},
                       "y": {"field": "v", "type": "quantitative", "scale": {"domain": [-14, 104], "nice": false, "zero": false}, "axis": {"values": [0, 25, 50, 75, 100], "title": "Drug-specific cytotoxicity (%)", "titlePadding": 5, "labelPadding": 3, "domainColor": "#aaa"}},
                       "color": {"field": "cond", "type": "nominal"},
                       "strokeDash": {"field": "cond", "type": "nominal"}}},
         {"data": {"name": "c2"}, "mark": {"type": "square", "size": 6, "opacity": 1},
          "encoding": {"x": {"field": "d", "type": "quantitative", "scale": {"domain": [-1, 17.5], "nice": false, "zero": false}},
                       "y": {"field": "v", "type": "quantitative", "scale": {"domain": [-14, 104], "nice": false, "zero": false}},
                       "color": {"field": "cond", "type": "nominal"}}},
         {"data": {"values": [{"label": "P = 1.61 × 10⁻³³", "px": 0.7, "py": 100}]}, "mark": {"type": "text", "align": "left", "baseline": "middle", "fontSize": 6.5, "color": "#333"},
          "encoding": {"x": {"field": "px", "type": "quantitative", "scale": {"domain": [-1, 17.5], "nice": false, "zero": false}},
                       "y": {"field": "py", "type": "quantitative", "scale": {"domain": [-14, 104], "nice": false, "zero": false}},
                       "text": {"field": "label"}}}
        ]
       }
      ]
     }
    ]
   }
  ]
 },
 {
  "resolve": {"scale": {"color": "independent", "strokeDash": "independent"}, "legend": {"color": "independent", "strokeDash": "independent"}},
  "spacing": 10,
  "hconcat": [
   {"width": 80, "height": 1, "data": {"values": []}, "mark": "point", "encoding": {}},
   {
    "spacing": 8,
    "resolve": {"scale": {"color": "independent", "strokeDash": "independent"}, "legend": {"color": "independent", "strokeDash": "independent"}},
    "vconcat": [
     {
      "width": 262, "height": 23,
      "data": {"values": [{"label": "b", "head": "KOs of MTIL repressors in ovarian cancer cells\nenhance CD8⁺ T cell-mediated apoptosis"}]},
      "layer": [
       {"mark": {"type": "rule", "color": "#999", "strokeWidth": 0.7}, "encoding": {"x": {"datum": -0.134, "type": "quantitative", "scale": {"domain": [0, 1]}, "axis": null}, "x2": {"datum": 1}, "y": {"datum": 0, "type": "quantitative", "scale": {"domain": [0, 23]}, "axis": null}}},
       {"mark": {"type": "text", "fontSize": 10, "fontWeight": "bold", "align": "left", "baseline": "middle", "color": "#111"}, "encoding": {"text": {"field": "label"}, "x": {"datum": -0.134, "type": "quantitative", "scale": {"domain": [0, 1]}, "axis": null}, "y": {"datum": 9, "type": "quantitative", "scale": {"domain": [0, 23]}, "axis": null}}},
       {"mark": {"type": "text", "fontSize": 7.8, "align": "center", "baseline": "middle", "lineBreak": "\n", "lineHeight": 11, "color": "#222"}, "encoding": {"text": {"field": "head"}, "x": {"datum": 0.481, "type": "quantitative", "scale": {"domain": [0, 1]}, "axis": null}, "y": {"datum": 19, "type": "quantitative", "scale": {"domain": [0, 23]}, "axis": null}}}
      ]
     },
     {
      "width": 137, "height": 111,
      "title": {"text": "TYK-nu in CD8⁺ T cell co-culture versus monoculture", "anchor": "start", "frame": "group", "offset": 4},
      "layer": [
       {"data": {"name": "b"}, "mark": {"type": "rule", "strokeWidth": 0.6},
        "encoding": {"x": {"field": "t", "type": "quantitative", "scale": {"domain": [-0.7, 17.45], "nice": false, "zero": false}},
                     "y": {"field": "lo", "type": "quantitative", "scale": {"domain": [-5.6, 31.4], "nice": false, "zero": false}}, "y2": {"field": "hi"},
                     "color": {"field": "s", "type": "nominal", "scale": {"domain": ["PTPN1 KO, CD8⁺ T co-culture","ACTR8 KO, CD8⁺ T co-culture","NTC, CD8⁺ T co-culture","PTPN1 KO, monoculture","ACTR8 KO, monoculture","NTC, monoculture"], "range": ["#b4323a","#3d7cc9","#1e1e1e","#f3b4b6","#b6c9ec","#d2d2d2"]}}}},
       {"data": {"name": "b"}, "mark": {"type": "tick", "orient": "horizontal", "size": 3, "thickness": 0.6},
        "encoding": {"x": {"field": "t", "type": "quantitative", "scale": {"domain": [-0.7, 17.45], "nice": false, "zero": false}},
                     "y": {"field": "lo", "type": "quantitative", "scale": {"domain": [-5.6, 31.4], "nice": false, "zero": false}},
                     "color": {"field": "s", "type": "nominal"}}},
       {"data": {"name": "b"}, "mark": {"type": "tick", "orient": "horizontal", "size": 3, "thickness": 0.6},
        "encoding": {"x": {"field": "t", "type": "quantitative", "scale": {"domain": [-0.7, 17.45], "nice": false, "zero": false}},
                     "y": {"field": "hi", "type": "quantitative", "scale": {"domain": [-5.6, 31.4], "nice": false, "zero": false}},
                     "color": {"field": "s", "type": "nominal"}}},
       {"data": {"name": "b"}, "mark": {"type": "line", "strokeWidth": 0.9},
        "encoding": {"x": {"field": "t", "type": "quantitative", "scale": {"domain": [-0.7, 17.45], "nice": false, "zero": false}, "axis": {"values": [0, 5, 10, 15], "title": "Time (h)", "domain": false, "titlePadding": 3}},
                     "y": {"field": "v", "type": "quantitative", "scale": {"domain": [-5.6, 31.4], "nice": false, "zero": false}, "axis": {"values": [0, 10, 20, 30], "title": ["Differential caspase intensity", "(GCU × µm²/image)"], "domain": false, "grid": true, "gridDash": [1, 3], "gridColor": "#bbb", "gridWidth": 0.7, "titlePadding": 4, "titleLineHeight": 9}},
                     "color": {"field": "s", "type": "nominal", "legend": {"title": "Gene perturbation, condition", "orient": "none", "legendX": 154, "legendY": 35, "symbolType": "M-1,0H1M-0.2,-0.2H0.2V0.2H-0.2Z", "symbolSize": 81, "symbolStrokeWidth": 1.3, "rowPadding": 1, "titlePadding": 2, "labelOffset": 3}}}},
       {"data": {"name": "b"}, "mark": {"type": "square", "size": 5, "opacity": 1},
        "encoding": {"x": {"field": "t", "type": "quantitative", "scale": {"domain": [-0.7, 17.45], "nice": false, "zero": false}},
                     "y": {"field": "v", "type": "quantitative", "scale": {"domain": [-5.6, 31.4], "nice": false, "zero": false}},
                     "color": {"field": "s", "type": "nominal"}}},
       {"data": {"name": "bP"}, "mark": {"type": "text", "align": "left", "baseline": "middle", "fontSize": 7},
        "encoding": {"x": {"field": "px", "type": "quantitative", "scale": {"domain": [-0.7, 17.45], "nice": false, "zero": false}},
                     "y": {"field": "py", "type": "quantitative", "scale": {"domain": [-5.6, 31.4], "nice": false, "zero": false}},
                     "text": {"field": "label"},
                     "color": {"field": "s", "type": "nominal"}}}
      ]
     }
    ]
   }
  ]
 }
]
}
